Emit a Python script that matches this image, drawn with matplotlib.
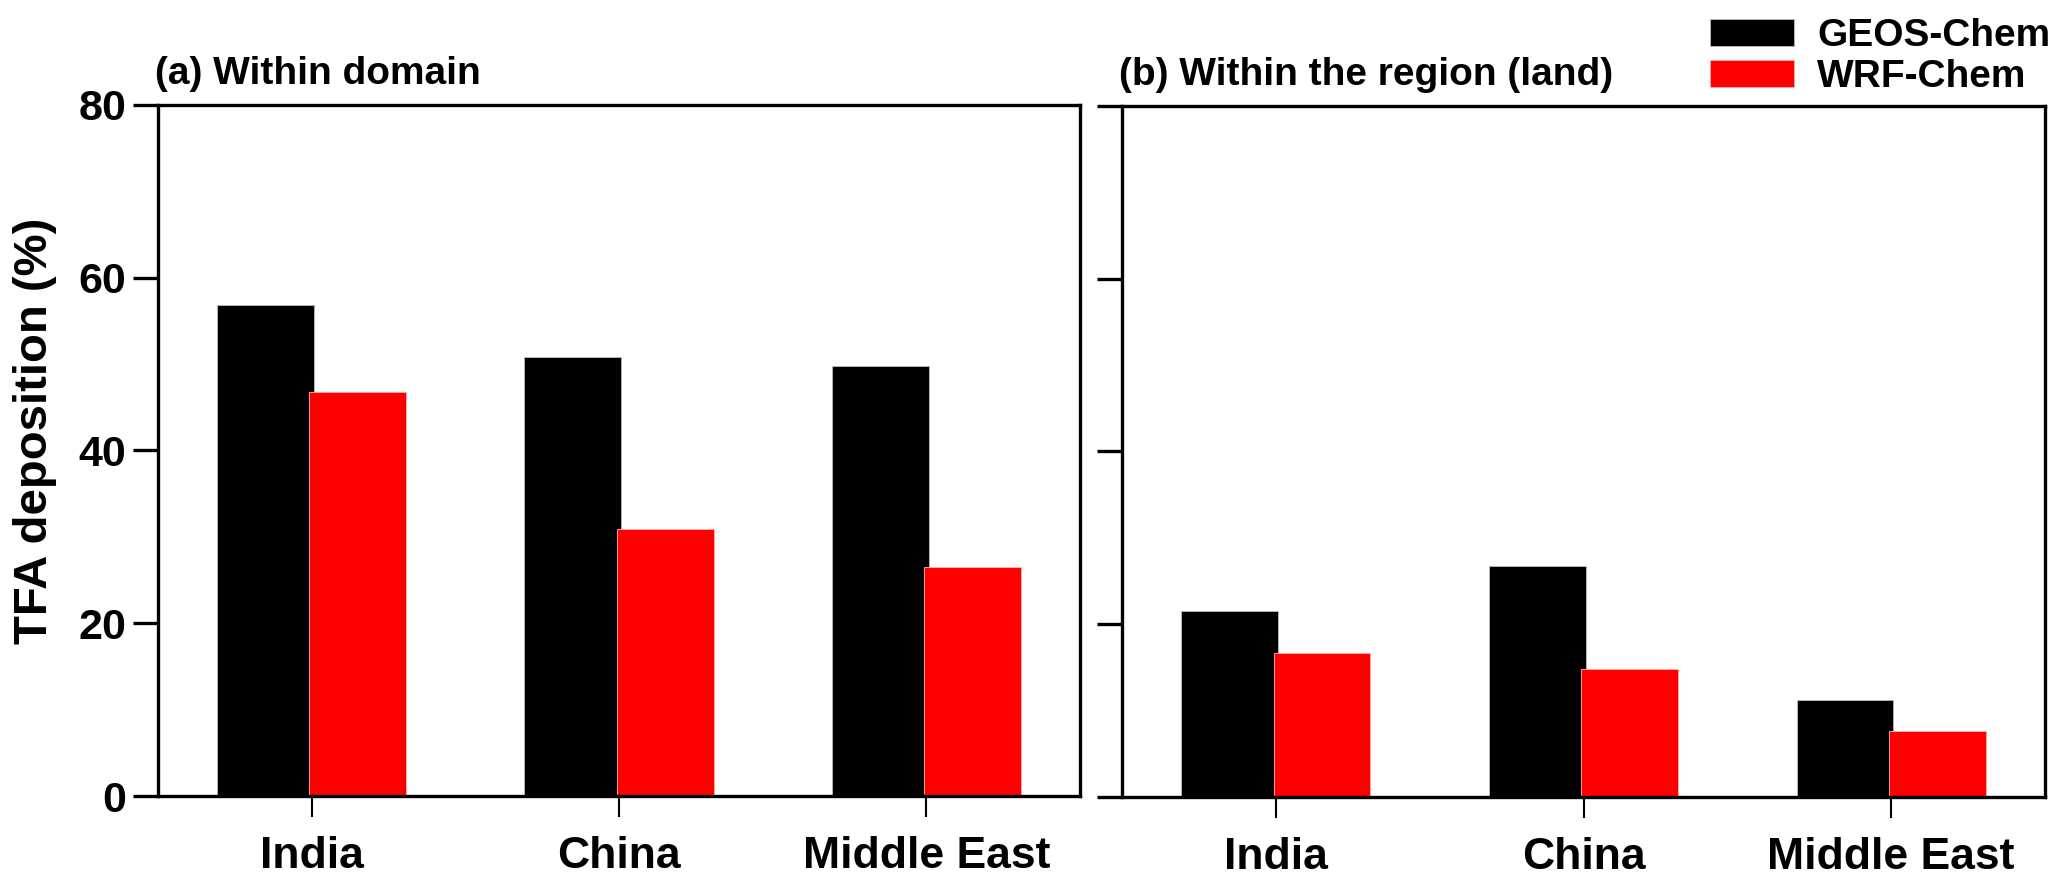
import numpy as np
import matplotlib.pyplot as plt

plt.rcParams['font.family'] = ['Liberation Sans', 'DejaVu Sans']
plt.rcParams['font.weight'] = 'bold'

# data
regions = ['India', 'China', 'Middle East']
domain_geos = [56.8, 50.8, 49.8]
domain_wrf = [46.8, 30.9, 26.5]
land_geos = [21.5, 26.8, 11.2]
land_wrf = [16.7, 14.8, 7.6]
yticks = [0, 20, 40, 60, 80]

W = 2067 / 100
H = 891 / 100
fig = plt.figure(figsize=(W, H), dpi=100)

# axes positions in figure pixels -> fractions
ax1 = fig.add_axes([158 / 2067, 1 - 796 / 891, 922 / 2067, 691 / 891])
ax2 = fig.add_axes([1122 / 2067, 1 - 797 / 891, 923 / 2067, 691 / 891])

x = np.arange(len(regions))
w = 0.315
off = 0.15


def draw_panel(ax, geos, wrf, title, show_labels):
    ax.bar(x - off, geos, w, color='black', edgecolor='#bbbbbb', linewidth=0.6, label='GEOS-Chem')
    ax.bar(x + off, wrf, w, color='#ff0000', edgecolor='#ffb0b0', linewidth=0.6, label='WRF-Chem')
    ax.set_xlim(-0.5, 2.5)
    ax.set_ylim(0, 80)
    ax.set_yticks(yticks)
    ax.set_xticks(x)
    ax.set_xticklabels(regions, fontsize=32, fontweight='bold')
    if show_labels:
        ax.set_yticklabels([str(t) for t in yticks], fontsize=31, fontweight='bold')
    else:
        ax.set_yticklabels([])
    for s in ax.spines.values():
        s.set_linewidth(2.4)
    ax.tick_params(axis='y', direction='out', length=18, width=2.4, pad=5)
    ax.tick_params(axis='x', direction='out', length=15, width=1.5, pad=14)
    ax.annotate(title, xy=(0, 1), xycoords='axes fraction', xytext=(-2, 15),
                textcoords='offset points', ha='left', va='baseline',
                fontsize=28, fontweight='bold')


draw_panel(ax1, domain_geos, domain_wrf, '(a) Within domain', True)
draw_panel(ax2, land_geos, land_wrf, '(b) Within the region (land)', False)

fig.text(35 / 2067, 1 - 431 / 891, 'TFA deposition (%)', rotation=90,
         ha='center', va='center', fontsize=34, fontweight='bold')

handles, labels = ax1.get_legend_handles_labels()
fig.legend(handles, labels, loc='upper left', bbox_to_anchor=(1710 / 2067, 1 - 18 / 891),
           frameon=False, handlelength=2.16, handleheight=0.68,
           handletextpad=0.6, labelspacing=0.14, borderpad=0, borderaxespad=0,
           prop={'weight': 'bold', 'size': 28})

fig.savefig('out.png', dpi=100)
